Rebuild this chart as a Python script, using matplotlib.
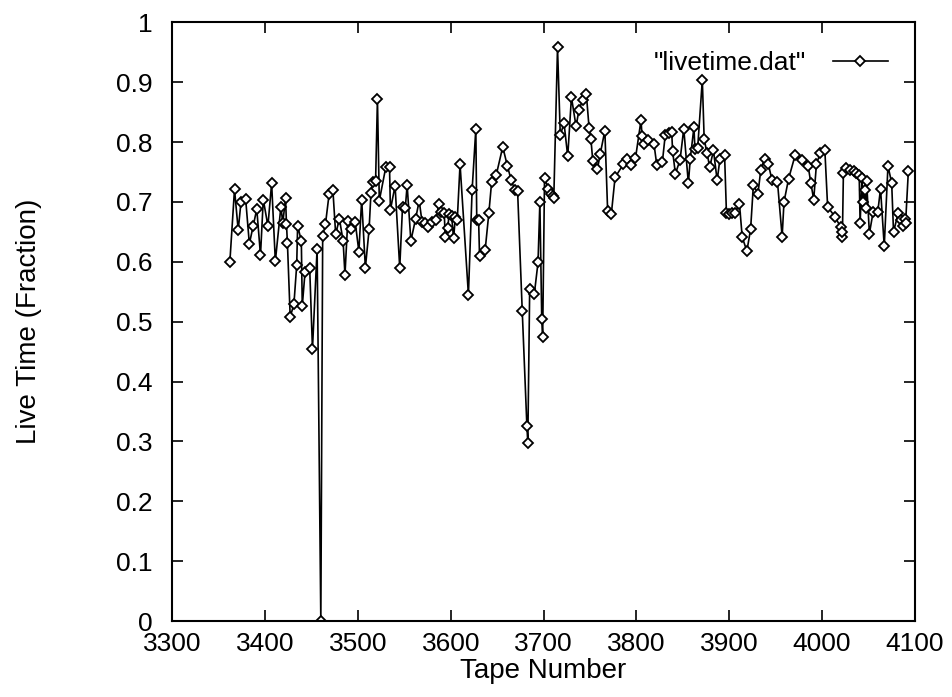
import matplotlib
matplotlib.use('Agg')
import matplotlib.pyplot as plt

# tape numbers and live-time fractions from livetime.dat
tape = [3362, 3367, 3371, 3374, 3379, 3383, 3387, 3391, 3395, 3398,
        3403, 3407, 3411, 3417, 3419, 3422, 3423, 3424, 3427, 3431,
        3434, 3435, 3439, 3440, 3443, 3448, 3451, 3456, 3460, 3462,
        3465, 3469, 3473, 3476, 3480, 3484, 3486, 3489, 3493, 3497,
        3501, 3504, 3508, 3512, 3514, 3516, 3519, 3521, 3523, 3530,
        3534, 3535, 3540, 3545, 3548, 3551, 3553, 3557, 3562, 3566,
        3569, 3572, 3575, 3580, 3584, 3587, 3590, 3593, 3594, 3597,
        3598, 3601, 3603, 3605, 3607, 3610, 3619, 3623, 3627, 3628,
        3630, 3631, 3637, 3641, 3644, 3649, 3656, 3661, 3665, 3669,
        3672, 3677, 3682, 3683, 3685, 3690, 3694, 3696, 3698, 3699,
        3701, 3705, 3708, 3710, 3711, 3715, 3718, 3722, 3726, 3730,
        3735, 3738, 3742, 3746, 3749, 3751, 3753, 3758, 3761, 3766,
        3769, 3773, 3777, 3786, 3790, 3794, 3799, 3805, 3806, 3808,
        3813, 3819, 3822, 3828, 3831, 3835, 3838, 3839, 3842, 3847,
        3851, 3856, 3858, 3862, 3863, 3866, 3871, 3873, 3876, 3879,
        3883, 3887, 3890, 3895, 3897, 3900, 3903, 3906, 3911, 3914,
        3919, 3923, 3926, 3931, 3934, 3938, 3942, 3946, 3952, 3957,
        3959, 3964, 3971, 3978, 3985, 3988, 3991, 3994, 3998, 4003,
        4006, 4014, 4020, 4021, 4022, 4023, 4026, 4030, 4034, 4037,
        4040, 4041, 4043, 4044, 4046, 4047, 4048, 4051, 4055, 4060,
        4063, 4067, 4071, 4075, 4077, 4082, 4085, 4087, 4089, 4090,
        4093]
live = [0.600, 0.721, 0.653, 0.700, 0.705, 0.630, 0.659, 0.688, 0.611, 0.704,
        0.660, 0.731, 0.601, 0.692, 0.665, 0.706, 0.663, 0.632, 0.508, 0.529,
        0.594, 0.660, 0.635, 0.526, 0.583, 0.590, 0.454, 0.622, 0.000, 0.643,
        0.663, 0.714, 0.720, 0.646, 0.672, 0.635, 0.578, 0.668, 0.655, 0.667,
        0.617, 0.704, 0.590, 0.654, 0.715, 0.733, 0.735, 0.872, 0.702, 0.758,
        0.758, 0.687, 0.727, 0.590, 0.691, 0.690, 0.728, 0.635, 0.671, 0.702,
        0.667, 0.664, 0.658, 0.667, 0.669, 0.696, 0.683, 0.681, 0.642, 0.657,
        0.680, 0.676, 0.639, 0.675, 0.670, 0.763, 0.545, 0.720, 0.822, 0.669,
        0.669, 0.609, 0.619, 0.681, 0.733, 0.745, 0.792, 0.760, 0.737, 0.720,
        0.718, 0.518, 0.326, 0.298, 0.554, 0.546, 0.599, 0.700, 0.505, 0.475,
        0.740, 0.722, 0.713, 0.710, 0.707, 0.958, 0.811, 0.832, 0.776, 0.875,
        0.826, 0.853, 0.870, 0.881, 0.824, 0.805, 0.768, 0.755, 0.780, 0.819,
        0.685, 0.680, 0.741, 0.763, 0.772, 0.761, 0.773, 0.837, 0.810, 0.797,
        0.803, 0.796, 0.761, 0.767, 0.811, 0.815, 0.817, 0.785, 0.747, 0.770,
        0.822, 0.731, 0.772, 0.825, 0.789, 0.790, 0.904, 0.805, 0.782, 0.758,
        0.786, 0.736, 0.772, 0.778, 0.681, 0.680, 0.682, 0.681, 0.697, 0.641,
        0.618, 0.654, 0.728, 0.714, 0.754, 0.771, 0.764, 0.737, 0.733, 0.642,
        0.700, 0.739, 0.778, 0.770, 0.760, 0.731, 0.704, 0.764, 0.781, 0.787,
        0.692, 0.675, 0.658, 0.642, 0.650, 0.748, 0.757, 0.753, 0.752, 0.748,
        0.745, 0.665, 0.740, 0.700, 0.720, 0.690, 0.735, 0.647, 0.683, 0.683,
        0.722, 0.626, 0.760, 0.732, 0.650, 0.681, 0.670, 0.660, 0.672, 0.665,
        0.752]

x_ticks = [3300, 3400, 3500, 3600, 3700, 3800, 3900, 4000, 4100]
y_ticks = [0, 0.1, 0.2, 0.3, 0.4, 0.5, 0.6, 0.7, 0.8, 0.9, 1]
y_tick_labels = ['0', '0.1', '0.2', '0.3', '0.4', '0.5', '0.6', '0.7', '0.8', '0.9', '1']

plt.rcParams['font.family'] = ['Liberation Sans', 'DejaVu Sans']

fig = plt.figure(figsize=(9.52, 6.97), dpi=100)
ax = fig.add_axes([0.181, 0.109, 0.780, 0.859])

ax.plot(tape, live, color='black', linewidth=1.2,
        marker='D', markersize=5.5, markerfacecolor='white',
        markeredgecolor='black', markeredgewidth=1.3,
        label='"livetime.dat"')

ax.set_xlim(3300, 4100)
ax.set_ylim(0, 1)
ax.set_xticks(x_ticks)
ax.set_yticks(y_ticks)
ax.set_yticklabels(y_tick_labels)

ax.tick_params(direction='in', length=8, width=1.2, top=True, right=True,
               labelsize=19, colors='black')
ax.tick_params(axis='y', pad=14)
ax.tick_params(axis='x', pad=8)
for s in ax.spines.values():
    s.set_linewidth(1.5)

ax.set_xlabel('Tape Number', fontsize=20, labelpad=1)
ax.set_ylabel('Live Time (Fraction)', fontsize=20)
ax.yaxis.set_label_coords(-0.176, 0.5)

ax.legend(loc='upper right', bbox_to_anchor=(0.964, 0.952), frameon=False,
          markerfirst=False, fontsize=19, handlelength=2.1, handletextpad=1.0,
          borderaxespad=0, borderpad=0, numpoints=1)

fig.savefig('out.png', dpi=100)
